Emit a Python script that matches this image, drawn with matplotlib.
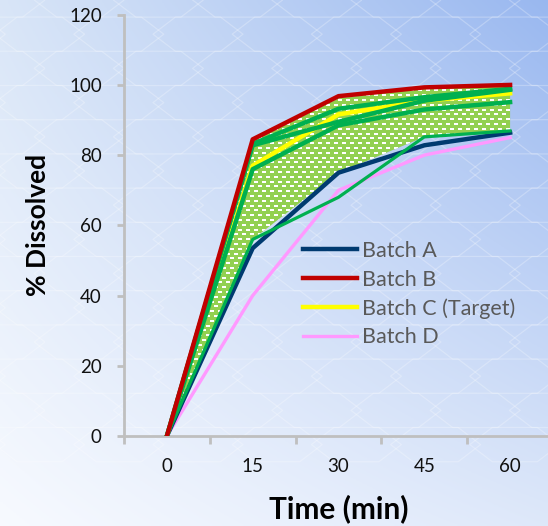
import matplotlib
matplotlib.use("Agg")
import matplotlib.pyplot as plt
import numpy as np
from matplotlib.collections import PolyCollection

plt.rcParams["font.family"] = ["Lato", "DejaVu Sans"]

# sampling times (category axis)
times = ["0", "15", "30", "45", "60"]

# batches shown in the legend
batch_a = [0, 53.5, 75.0, 82.8, 86.4]
batch_b = [0, 84.5, 96.8, 99.3, 100.0]
batch_c = [0, 77.0, 91.6, 95.5, 97.6]
batch_d = [0, 40.0, 70.0, 80.0, 85.0]

# green reference profiles
ref_1 = [0, 83.2, 93.2, 96.5, 98.9]
ref_2 = [0, 82.8, 89.5, 95.5, 98.6]
ref_3 = [0, 76.0, 88.5, 93.0, 95.1]
ref_4 = [0, 56.0, 68.0, 85.2, 86.9]

# shaded design space
band_upper = [0, 84.0, 96.2, 99.0, 99.6]
band_lower = [0, 56.0, 75.0, 85.2, 87.0]

W, H = 548, 526
fig = plt.figure(figsize=(W / 100, H / 100), dpi=100)

# background gradient with a faint hexagon texture
bg = fig.add_axes([0, 0, 1, 1], zorder=-5)
bg.set_axis_off()
gx = np.linspace(0, 1, 200)
gy = np.linspace(0, 1, 200)
X, Y = np.meshgrid(gx, gy)
tl = np.array([0.85, 0.90, 0.97])
tr = np.array([0.60, 0.72, 0.94])
bl = np.array([0.97, 0.98, 1.00])
br = np.array([0.87, 0.91, 0.98])
img = ((1 - X)[..., None] * (1 - Y)[..., None] * tl + X[..., None] * (1 - Y)[..., None] * tr
       + (1 - X)[..., None] * Y[..., None] * bl + X[..., None] * Y[..., None] * br)
bg.imshow(img, extent=[0, W, H, 0], aspect="auto")
hexes = []
r = 36
for row in range(-1, 14):
    for col in range(-1, 10):
        cx = col * r * 2.2 + (row % 2) * r * 1.1
        cy = row * r * 0.95
        ang = np.linspace(0, 2 * np.pi, 7)[:-1]
        hexes.append(np.column_stack([cx + r * 1.25 * np.cos(ang), cy + r * 0.55 * np.sin(ang)]))
bg.add_collection(PolyCollection(hexes, facecolors="none", edgecolors="white",
                                 linewidths=0.9, alpha=0.25))
bg.set_xlim(0, W)
bg.set_ylim(H, 0)

ax = fig.add_axes([124 / W, 90 / H, 429 / W, 421.3 / H])
ax.set_facecolor("none")
x = np.arange(len(times))

band = ax.fill_between(x, band_lower, band_upper, facecolor="#92D050",
                       edgecolor="none", zorder=1)

# white dash texture inside the band
dx = 8 / 85.8
dy = 4.8 / 3.51
rows_y = np.arange(0, 101, dy)
tex_x, tex_y = [], []
for i, yy in enumerate(rows_y):
    xs = np.arange(-0.5 + (i % 2) * dx / 2, 4.5, dx)
    tex_x.extend(xs)
    tex_y.extend([yy] * len(xs))
tex, = ax.plot(tex_x, tex_y, linestyle="none", marker="_", markersize=2.9,
               markeredgewidth=1.4, color="white", zorder=2)
tex.set_clip_path(band.get_paths()[0], band.get_transform())

ax.plot(x, batch_d, color="#FF99FF", lw=2.4, zorder=3, label="Batch D")
ax.plot(x, batch_a, color="#003A70", lw=3.2, zorder=3, label="Batch A")
ax.plot(x, batch_c, color="#FFFF00", lw=3.2, zorder=3, label="Batch C (Target)")
for ref, lw in [(ref_3, 3.2), (ref_2, 3.2), (ref_1, 3.2), (ref_4, 2.3)]:
    ax.plot(x, ref, color="#00B050", lw=lw, zorder=4)
ax.plot(x, batch_b, color="#C00000", lw=3.2, zorder=5, label="Batch B")

ax.set_xlim(-0.5, 4.5)
ax.set_ylim(0, 120)
ax.set_yticks(np.arange(0, 121, 20))
ax.set_xticks(x)
ax.set_xticklabels(times)
ax.set_xticks(np.arange(-0.5, 4.6, 1), minor=True)

for side in ["top", "right"]:
    ax.spines[side].set_visible(False)
for side in ["left", "bottom"]:
    ax.spines[side].set_color("#BFBFBF")
    ax.spines[side].set_linewidth(2)

ax.tick_params(axis="x", which="major", length=0, pad=16, labelsize=13.5, colors="#111111")
ax.tick_params(axis="x", which="minor", length=6, width=2, color="#BFBFBF")
ax.tick_params(axis="y", length=5, width=2, color="#BFBFBF", pad=11,
               labelsize=13.5, labelcolor="#111111")

ax.set_xlabel("Time (min)", fontsize=21.5, fontweight="bold", labelpad=14)
ax.set_ylabel("% Dissolved", fontsize=19, fontweight="bold", labelpad=14)

handles, labels = ax.get_legend_handles_labels()
order = ["Batch A", "Batch B", "Batch C (Target)", "Batch D"]
hmap = dict(zip(labels, handles))
leg = ax.legend([hmap[k] for k in order], order, loc="upper left",
                bbox_to_anchor=(303 / W, 1 - 241 / H), bbox_transform=fig.transFigure,
                frameon=False, fontsize=15.5, handlelength=2.5, handletextpad=0.25,
                labelspacing=0.4, borderpad=0, borderaxespad=0, labelcolor="#595959")

fig.savefig("out.png", dpi=100)
